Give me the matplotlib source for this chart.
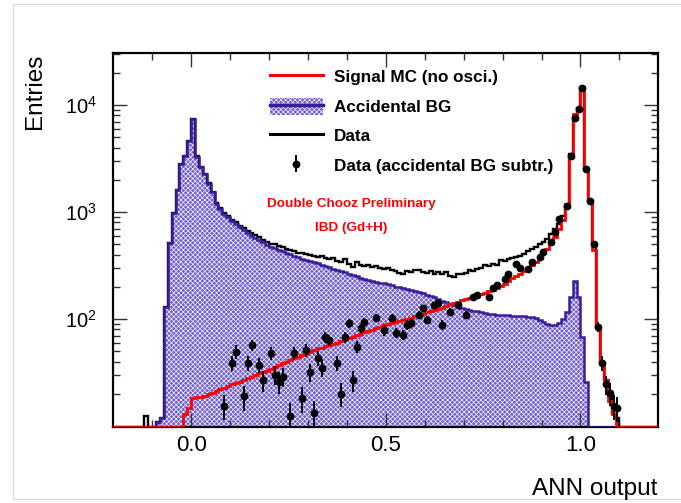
import numpy as np
import matplotlib
matplotlib.use("Agg")
import matplotlib.pyplot as plt
from matplotlib.patches import Patch, Rectangle
from matplotlib.lines import Line2D
from matplotlib.ticker import FixedLocator, LogLocator, NullFormatter, FuncFormatter

plt.rcParams["font.family"] = ["Liberation Sans", "DejaVu Sans"]
plt.rcParams["mathtext.fontset"] = "custom"
plt.rcParams["mathtext.rm"] = "Liberation Sans"
plt.rcParams["mathtext.it"] = "Liberation Sans:italic"
plt.rcParams["mathtext.bf"] = "Liberation Sans:bold"
plt.rcParams["hatch.linewidth"] = 0.45

# ---- histogram binning: 140 bins of 0.01 from -0.20 to 1.20 ----
EDGES = np.round(np.linspace(-0.20, 1.20, 141), 3)

# accidental BG (bins -0.20 ... 1.19, listed by lower edge)
acc_bg = [0, 0, 0, 0, 0, 0, 0, 0, 0, 0, 0,                       # -0.20..-0.10
          11, 12, 130, 510, 970, 1590, 2800, 3350, 4630,           # -0.09..-0.01
          7360, 3300, 2620, 2260, 1830, 1530, 1190, 1060, 960, 890,  # 0.00..0.09
          820, 770, 720, 680, 640, 600, 570, 545, 520, 495,
          475, 460, 445, 430, 415, 402, 390, 378, 366, 357,
          348, 340, 332, 323, 314, 305, 296, 288, 280, 272,
          264, 257, 250, 243, 237, 232, 227, 222, 218, 215,
          211, 206, 201, 197, 193, 189, 185, 182, 179, 174,
          169, 164, 159, 154, 148, 143, 138, 134, 131, 128,
          125, 122, 120, 118, 116, 114, 112, 111, 110, 109,
          108, 108, 107, 107, 106, 106, 105, 104, 102, 98,
          94, 90, 88, 88, 92, 100, 115,                             # 0.90..0.96
          161, 225, 161, 68, 26,                                    # 0.97..1.01
          0, 0, 0, 0, 0, 0, 0, 0, 0, 0, 0, 0, 0, 0, 0, 0, 0, 0]     # 1.02..1.19

# signal MC (no oscillation)
signal_mc = [0, 0, 0, 0, 0, 0, 0, 0, 0, 0, 0, 0, 0, 0, 0, 0, 0, 0,  # -0.20..-0.03
             13, 14.6, 18.3,                                         # -0.02..0.00
             18.5, 18.8, 19.2, 19.8, 20.5, 21.2, 22, 22.8, 23.5,     # 0.01..0.09
             24.5, 25.3, 26, 27, 28, 29, 30, 31, 32, 33,
             34, 35.5, 37, 38.5, 40, 41.5, 43, 44.5, 46, 47.5,
             49, 51, 53, 54, 55.5, 57, 58.5, 60, 62, 64,
             66, 68, 71, 73, 75, 77, 79, 82, 84, 87,
             89, 91, 93, 95, 98, 100, 103, 106, 109, 112,
             115, 118, 121, 125, 128, 132, 137, 141, 145, 149,
             153, 157, 161, 165, 170, 175, 181, 188, 195, 203,
             212, 226, 240, 252, 265, 282, 300, 320, 342, 370,
             410, 450, 510, 590, 700, 850, 1200,                      # 0.90..0.96
             3300, 8200, 9400, 14850, 2450, 1280, 440, 84, 39, 27, 17, 13,  # 0.97..1.08
             0, 0, 0, 0, 0, 0, 0, 0, 0, 0, 0]                         # 1.09..1.19

# data
data = [0, 0, 0, 0, 0, 0, 0, 0,                                   # -0.20..-0.13
        12.5, 0, 0,                                               # -0.12..-0.10
        11, 12, 130, 515, 975, 1600, 2810, 3365, 4650,            # -0.09..-0.01
        7380, 3320, 2640, 2280, 1850, 1550, 1210, 1080, 985, 915,  # 0.00..0.09
        845, 800, 745, 712, 668, 630, 605, 578, 550, 528,
        505, 500, 480, 470, 448, 440, 432, 418, 412, 405,
        398, 392, 378, 388, 372, 362, 370, 352, 340, 366,
        330, 305, 338, 322, 310, 318, 305, 312, 298, 296,
        302, 290, 282, 270, 266, 278, 272, 285, 285, 275,
        268, 280, 266, 272, 262, 275, 250, 248, 265, 262,
        270, 285, 278, 292, 300, 318, 310, 330, 322, 355,
        345, 362, 368, 378, 392, 405, 428, 455, 470, 500,
        525, 560, 625, 690, 780, 920, 1140,                       # 0.90..0.96
        3470, 7630, 9400, 14850, 2500, 1280, 505, 84, 39, 27, 19, 13, 12,  # 0.97..1.09
        0, 0, 0, 0, 0, 0, 0, 0, 0, 0]                             # 1.10..1.19

# data with accidental BG subtracted (points with errors)
sub_x = [0.085, 0.105, 0.115, 0.135, 0.145, 0.155, 0.175, 0.185, 0.205, 0.215,
         0.225, 0.235, 0.255, 0.265, 0.285, 0.295, 0.305, 0.315, 0.325, 0.335,
         0.345, 0.355, 0.375, 0.385, 0.395, 0.405, 0.415, 0.425, 0.435, 0.445,
         0.475, 0.495, 0.515, 0.525, 0.545, 0.555, 0.565, 0.585, 0.595, 0.605,
         0.625, 0.635, 0.645, 0.665, 0.685, 0.705, 0.725, 0.735, 0.765, 0.775,
         0.785, 0.805, 0.815, 0.835, 0.845, 0.865, 0.875, 0.895, 0.905, 0.925,
         0.935, 0.945, 0.965, 0.975, 0.985, 0.995, 1.005, 1.015, 1.025, 1.035,
         1.045, 1.055, 1.065, 1.075, 1.085, 1.095]
sub_y = [15.3, 38.7, 49.6, 18.9, 38.7, 57, 37, 27, 48, 30,
         26, 29, 12.3, 48, 18.3, 51, 32, 13.2, 43, 35,
         68, 63.6, 38.7, 20, 68, 91, 27, 55, 82, 94,
         102, 79, 102, 74, 71, 88, 91, 109, 126, 98,
         135, 140, 88, 117, 135, 109, 161, 167, 161, 193,
         207, 239, 266, 330, 300, 296, 340, 380, 420, 525,
         650, 865, 1140, 3340, 7630, 9100, 14500, 2500, 1280, 505,
         84, 38.7, 24.5, 20.4, 15.3, 14.8]
sub_err = [4, 6, 7, 5, 6, 7, 6, 6, 7, 6,
           6, 6, 4, 7, 5, 7, 6, 4, 7, 6,
           8, 8, 6, 5, 8, 9, 6, 7, 8, 9,
           9, 9, 9, 8, 8, 9, 9, 9, 10, 9,
           10, 10, 9, 10, 10, 9, 11, 11, 11, 12,
           12, 12, 13, 14, 13, 13, 14, 15, 15, 17,
           19, 21, 25, 45, 70, 75, 95, 40, 28, 17,
           9, 6, 5, 5, 4, 4]

XLIM = (-0.2, 1.2)
YLIM = (9.85, 3.04e4)
ACC_EDGE = "#3a1c9c"
ACC_FACE = "#7260cf"
ACC_HATCH = "xxxxxxx"

fig = plt.figure(figsize=(6.81, 5.03), dpi=100)
ax = fig.add_axes([0.1664, 0.1517, 0.8003, 0.7423])

def clip(v):
    # empty bins are drawn on the lower frame, like ROOT does
    return np.maximum(np.asarray(v, float), YLIM[0])

ax.stairs(clip(acc_bg), EDGES, baseline=YLIM[0], fill=True,
          facecolor=ACC_FACE, edgecolor="white", hatch=ACC_HATCH, lw=0, zorder=1)
ax.stairs(clip(data), EDGES, baseline=None, color="black", lw=1.7, zorder=2)
ax.stairs(clip(acc_bg), EDGES, baseline=None, color=ACC_EDGE, lw=1.8, zorder=3)
ax.stairs(clip(signal_mc), EDGES, baseline=None, color="#ff0000", lw=2.0, zorder=4)
eb = ax.errorbar(sub_x, sub_y, yerr=sub_err, fmt="o", color="black", ms=4.6,
                 elinewidth=1.4, capsize=0, zorder=5)

ax.set_yscale("log")
ax.set_xlim(*XLIM)
ax.set_ylim(*YLIM)

ax.xaxis.set_major_locator(FixedLocator([0.0, 0.5, 1.0]))
ax.xaxis.set_minor_locator(FixedLocator(np.round(np.arange(-0.1, 1.15, 0.1), 2)))
ax.xaxis.set_major_formatter(FuncFormatter(lambda v, p: f"{v:.1f}"))
ax.yaxis.set_major_locator(FixedLocator([1e2, 1e3, 1e4]))
ax.yaxis.set_minor_locator(LogLocator(base=10, subs=np.arange(2, 10)))
ax.yaxis.set_minor_formatter(NullFormatter())
ax.yaxis.set_major_formatter(FuncFormatter(
    lambda v, p: r"$\mathregular{10^{%d}}$" % round(np.log10(v))))
ax.tick_params(which="both", direction="in", top=True, right=True,
               color="#333333", width=1.0)
ax.tick_params(which="major", length=10)
ax.tick_params(which="minor", length=5)
ax.tick_params(axis="x", labelsize=16, pad=6)
ax.tick_params(axis="y", labelsize=14.5, pad=12)
for s in ax.spines.values():
    s.set_linewidth(1.6)

fig.text(35 / 681, 1 - 54 / 503, "Entries", rotation=90, ha="center",
         va="top", fontsize=17.5)
fig.text(657 / 681, 1 - 489 / 503, "ANN output", ha="right",
         va="center", fontsize=17.5)

# legend
h_sig = Line2D([], [], color="#ff0000", lw=2.2)
h_acc = (Patch(facecolor=ACC_FACE, edgecolor="white", hatch=ACC_HATCH, lw=0),
         Line2D([], [], color=ACC_EDGE, lw=2.5))
h_dat = Line2D([], [], color="black", lw=2.2)
leg = ax.legend([h_sig, h_acc, h_dat, eb],
                ["Signal MC (no osci.)", "Accidental BG", "Data",
                 "Data (accidental BG subtr.)"],
                loc="upper left", bbox_to_anchor=(270 / 681, 1 - 68 / 503),
                bbox_transform=fig.transFigure, frameon=False,
                prop={"weight": "bold", "size": 12.3}, borderpad=0,
                borderaxespad=0, handlelength=3.1, handleheight=1.15,
                handletextpad=0.62, labelspacing=0.72)

ax.text(351 / 681, 1 - 204 / 503, "Double Chooz Preliminary",
        transform=fig.transFigure, ha="center", va="center",
        color="#ff0000", fontsize=9.7, fontweight="bold")
ax.text(351 / 681, 1 - 228 / 503, "IBD (Gd+H)", transform=fig.transFigure,
        ha="center", va="center", color="#ff0000", fontsize=9.7,
        fontweight="bold")

# light screenshot border
fig.patches.append(Rectangle((12.5 / 681, 1 - 499 / 503), 0.99, 495 / 503,
                             transform=fig.transFigure, fill=False,
                             edgecolor="#dddddd", lw=1.0))

fig.savefig("out.png", dpi=100)
